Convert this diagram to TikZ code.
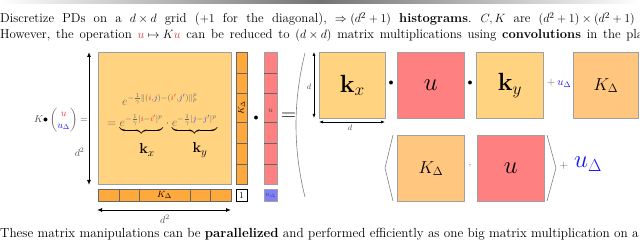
\documentclass[tikz,border=0pt]{standalone}
\usepackage{amsmath}
\usetikzlibrary{arrows.meta}
\definecolor{bigfill}{RGB}{255,211,128}
\definecolor{cellor}{RGB}{255,168,60}
\definecolor{redf}{RGB}{255,128,128}
\definecolor{bluef}{RGB}{128,128,255}
\definecolor{kdel}{RGB}{255,198,128}
\definecolor{edgec}{RGB}{160,160,160}
\definecolor{ured}{RGB}{235,50,50}
\definecolor{jblue}{RGB}{60,60,230}
\definecolor{ublue}{RGB}{20,20,255}
\newcommand{\widespc}{\spaceskip 8.2pt\relax\xspaceskip 9.2pt\relax}
\newcommand{\midspc}{\spaceskip 5.8pt\relax\xspaceskip 6.8pt\relax}
\begin{document}
\begin{tikzpicture}[x=1pt,y=-1pt,
  bodytext/.style={anchor=base west,inner sep=0pt,font=\fontsize{12.9}{15}\selectfont},
  widespace/.style={font=\fontsize{12.9}{15}\selectfont\widespc},
  midspace/.style={font=\fontsize{12.9}{15}\selectfont\midspc},
  bigbox/.style={draw=edgec,line width=0.8pt,anchor=north west,inner sep=0pt},
  cellc/.style={draw=black!60,line width=0.5pt},
  dimarrow/.style={{Latex[length=5pt,width=4pt]}-{Latex[length=5pt,width=4pt]},line width=0.9pt},
  smallarrow/.style={{Latex[length=4pt,width=3pt]}-{Latex[length=4pt,width=3pt]},line width=0.6pt},
  fence/.style={draw=black!50,line width=0.6pt},
  formula/.style={anchor=base west,inner sep=0pt,font=\fontsize{12}{13}\selectfont,text=black!60}]
\clip (0,0) rectangle (640,245);
\shade[left color=white,right color=white,middle color=black!55] (0,1) rectangle (640,3.5);

% text lines
\node[bodytext,widespace] (l1) at (0,23) {Discretize PDs on a $d\times d$ grid ($+1$ for the diagonal), $\Rightarrow (d^2+1)$ \textbf{histograms}. $C,K$ are $(d^2+1)\times(d^2+1)$ matrices.};
\node[bodytext,midspace] (l2) at (0,39) {However, the operation ${\color{ured}u}\mapsto K{\color{ured}u}$ can be reduced to $(d\times d)$ matrix multiplications using \textbf{convolutions} in the plane.};
\node[bodytext,font=\fontsize{13.2}{15}\selectfont] (l3) at (0,238) {These matrix manipulations can be \textbf{parallelized} and performed efficiently as one big matrix multiplication on a GPU.};

% left label
\node[font=\fontsize{10}{12}\selectfont,text=black!70] (lab) at (61,120) {$K{\color{black}\bullet}\begin{pmatrix}{\color{ured}u}\\{\color{ublue}u_\Delta}\end{pmatrix}=$};

% big matrix
\node[bigbox,fill=bigfill,minimum width=133pt,minimum height=132pt] (M) at (98,52) {};
\node[formula] (f1) at (122,106)
 {$e^{-\frac{1}{\gamma}\|({\color{ured}i},{\color{jblue}j})-({\color{ured}i'},{\color{jblue}j'})\|_p^p}$};
\node[formula] (f2) at (107,127)
 {$={\color{black}\underbrace{\color{black!60}e^{-\frac{1}{\gamma}|{\color{ured}i}-{\color{ured}i'}|^p}}}\cdot{\color{black}\underbrace{\color{black!60}e^{-\frac{1}{\gamma}|{\color{jblue}j}-{\color{jblue}j'}|^p}}}$};
\node[font=\fontsize{15}{17}\selectfont] (kx1) at (147,150) {$\mathbf{k}_x$};
\node[font=\fontsize{15}{17}\selectfont] (ky1) at (200,150) {$\mathbf{k}_y$};

% right column K_Delta
\node[bigbox,draw=black!60,fill=cellor,minimum width=11pt,minimum height=132pt] (col) at (236,52) {};
\foreach \yy in {73,93,122,143,164} \draw[cellc] (236,\yy) -- (247,\yy);
\node[rotate=90,font=\fontsize{8.5}{10}\selectfont] (colk) at (241.5,108) {$K_\Delta$};

% bottom row K_Delta
\node[bigbox,draw=black!60,fill=cellor,minimum width=133pt,minimum height=12pt] (row) at (98,189) {};
\foreach \xx in {119,139,190,210} \draw[cellc] (\xx,189) -- (\xx,201);
\node[font=\fontsize{9.5}{11}\selectfont] (rowk) at (164.5,195) {$K_\Delta$};

% one box
\node[bigbox,draw=black,fill=white,minimum width=11pt,minimum height=12pt,line width=0.5pt] (one) at (236,189) {};
\node[font=\fontsize{9}{10}\selectfont] (onet) at (241.5,195.5) {1};

% dot
\node[font=\fontsize{10}{12}\selectfont] (dot0) at (256,118) {$\bullet$};

% u column
\node[bigbox,fill=redf,minimum width=13pt,minimum height=132pt] (ucol) at (264,52) {};
\foreach \yy in {73,93,122,143,164} \draw[cellc] (264,\yy) -- (277,\yy);
\node[font=\fontsize{8}{10}\selectfont,text=black!70] (ucolt) at (270.5,111) {$u$};
\node[bigbox,fill=bluef,minimum width=13pt,minimum height=12pt] (ud) at (264,189) {};
\node[font=\fontsize{7.5}{9}\selectfont,text=black!70] (udt) at (270.5,195) {$u_\Delta$};

% big equals
\node[font=\fontsize{22}{24}\selectfont] (eq) at (288.5,117) {$=$};

% dimension arrows left
\coordinate (va1) at (89,52); \coordinate (va2) at (89,185);
\draw[dimarrow] (va1) -- (va2);
\node[anchor=east,font=\fontsize{10}{12}\selectfont,text=black!70] (vd) at (88,152) {$d^2$};
\coordinate (ha1) at (97,210); \coordinate (ha2) at (231,210);
\draw[dimarrow] (ha1) -- (ha2);
\node[font=\fontsize{10}{12}\selectfont,text=black!70] (hd) at (165,219) {$d^2$};

% big paren
\coordinate (p1) at (305,53); \coordinate (p2) at (305,197);
\draw[fence] (p1) .. controls (293,101) and (293,149) .. (p2);

% right part row 1
\node[bigbox,fill=bigfill,minimum width=66pt,minimum height=66pt] (kx) at (319,52) {};
\node[font=\fontsize{27}{30}\selectfont] at (kx.center) {$\mathbf{k}_x$};
\node[font=\fontsize{10}{12}\selectfont] (dot1) at (391,83) {$\bullet$};
\node[bigbox,fill=redf,minimum width=67pt,minimum height=66pt] (u1) at (397,52) {};
\node[font=\fontsize{26}{30}\selectfont] at (u1.center) {$u$};
\node[font=\fontsize{10}{12}\selectfont] (dot2) at (470,83) {$\bullet$};
\node[bigbox,fill=bigfill,minimum width=67pt,minimum height=66pt] (ky) at (476,52) {};
\node[font=\fontsize{27}{30}\selectfont] at (ky.center) {$\mathbf{k}_y$};
\node[font=\fontsize{11}{12}\selectfont] (plus1) at (559,83) {${\color{black!60}+}\,{\color{ublue}u_\Delta}$};
\node[bigbox,fill=kdel,minimum width=65pt,minimum height=66pt] (kd1) at (573,52) {};
\node[font=\fontsize{18}{20}\selectfont] at (kd1.center) {$K_\Delta$};

% small dims
\coordinate (sv1) at (314,52); \coordinate (sv2) at (314,118);
\draw[smallarrow] (sv1) -- (sv2);
\node[font=\fontsize{8}{9}\selectfont,text=black!70] (svd) at (309,87) {$d$};
\coordinate (sh1) at (319,122); \coordinate (sh2) at (385,122);
\draw[smallarrow] (sh1) -- (sh2);
\node[font=\fontsize{8}{9}\selectfont,text=black!70] (shd) at (350,128) {$d$};

% right part row 2
\node[bigbox,fill=kdel,minimum width=67pt,minimum height=66pt] (kd2) at (397,135) {};
\node[font=\fontsize{18}{20}\selectfont] at (kd2.center) {$K_\Delta$};
\node[font=\fontsize{10}{12}\selectfont,text=black!60] (comma) at (470,166) {$,$};
\node[bigbox,fill=redf,minimum width=67pt,minimum height=66pt] (u2) at (477,135) {};
\node[font=\fontsize{26}{30}\selectfont] at (u2.center) {$u$};
\coordinate (la1) at (393,135); \coordinate (la2) at (385,168); \coordinate (la3) at (393,201);
\draw[fence] (la1) -- (la2) -- (la3);
\coordinate (ra1) at (547,135); \coordinate (ra2) at (556,168); \coordinate (ra3) at (547,201);
\draw[fence] (ra1) -- (ra2) -- (ra3);
\node[font=\fontsize{11}{12}\selectfont,text=black!60] (plus2) at (564,166) {$+$};
\node[font=\fontsize{25}{28}\selectfont,text=ublue] (ud2) at (588,164) {$u_\Delta$};
\end{tikzpicture}
\end{document}
